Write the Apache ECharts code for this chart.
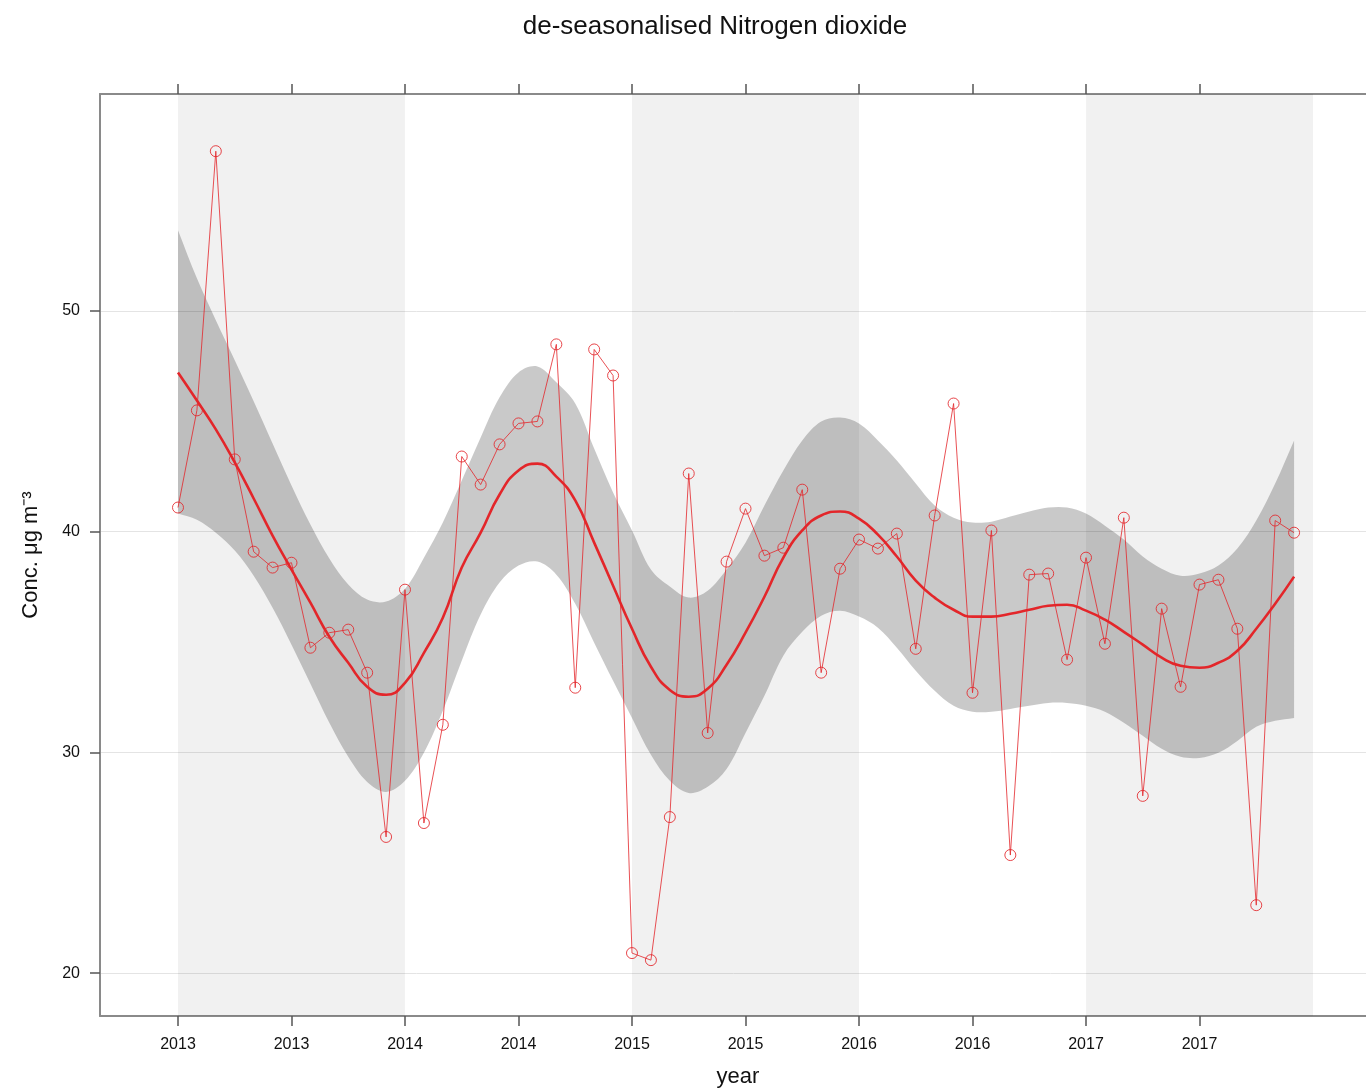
<!DOCTYPE html>
<html>
<head>
<meta charset="utf-8">
<title>de-seasonalised Nitrogen dioxide</title>
<script src="https://cdn.jsdelivr.net/npm/echarts@6/dist/echarts.min.js"></script>
<style>
  html, body { margin: 0; padding: 0; background: #fff; }
  #chart { width: 1366px; height: 1091px; }
</style>
</head>
<body>
<div id="chart"></div>
<script>
// months since Jan 2013 (one de-seasonalised value per month)
const monthIndex = [
  0, 1, 2, 3, 4, 5, 6, 7, 8, 9, 10, 11,
  12, 13, 14, 15, 16, 17, 18, 19, 20, 21, 22, 23,
  24, 25, 26, 27, 28, 29, 30, 31, 32, 33, 34, 35,
  36, 37, 38, 39, 40, 41, 42, 43, 44, 45, 46, 47,
  48, 49, 50, 51, 52, 53, 54, 55, 56, 57, 58, 59,
];

const no2 = [
  41.09, 45.49, 57.23, 43.27, 39.09, 38.37, 38.59, 34.74, 35.42, 35.56, 33.61, 26.17,
  37.37, 26.80, 31.25, 43.40, 42.13, 43.95, 44.90, 44.99, 48.48, 32.93, 48.25, 47.07,
  20.91, 20.59, 27.07, 42.63, 30.88, 38.64, 41.04, 38.91, 39.27, 41.90, 33.61, 38.32,
  39.64, 39.23, 39.91, 34.69, 40.73, 45.80, 32.70, 40.05, 25.35, 38.05, 38.10, 34.20,
  38.82, 34.92, 40.63, 28.03, 36.51, 32.97, 37.60, 37.82, 35.60, 23.08, 40.50, 39.95,
];

const trend = [
  47.21, 45.94, 44.63, 43.13, 41.50, 39.82, 38.28, 36.78, 35.24, 34.06, 32.97, 32.61,
  33.15, 34.51, 36.10, 38.37, 39.95, 41.68, 42.77, 43.08, 42.49, 41.41, 39.50, 37.55,
  35.60, 33.88, 32.83, 32.52, 32.88, 33.97, 35.42, 37.05, 38.82, 40.05, 40.73, 40.91,
  40.59, 39.86, 38.87, 37.78, 37.01, 36.46, 36.15, 36.15, 36.28, 36.46, 36.64, 36.69,
  36.42, 36.01, 35.46, 34.88, 34.29, 33.92, 33.83, 34.06, 34.60, 35.60, 36.73, 37.96,
];

const trendUpper = [
  53.65, 51.47, 49.57, 47.76, 45.90, 43.99, 42.09, 40.32, 38.78, 37.60, 36.92, 36.83,
  37.41, 38.82, 40.41, 42.31, 44.26, 46.08, 47.21, 47.48, 46.76, 45.80, 43.76, 41.77,
  40.05, 38.28, 37.51, 37.01, 37.32, 38.28, 39.50, 41.18, 42.77, 44.13, 44.99, 45.17,
  44.90, 44.13, 43.22, 42.18, 41.18, 40.63, 40.41, 40.45, 40.68, 40.91, 41.09, 41.09,
  40.82, 40.27, 39.64, 38.87, 38.32, 38.00, 38.10, 38.46, 39.23, 40.50, 42.18, 44.13,
];

const trendLower = [
  40.82, 40.54, 39.95, 39.14, 38.00, 36.55, 34.88, 33.11, 31.34, 29.80, 28.66, 28.21,
  28.71, 29.98, 31.88, 34.15, 36.24, 37.69, 38.46, 38.64, 38.05, 36.73, 34.97, 33.24,
  31.56, 29.89, 28.71, 28.16, 28.44, 29.25, 30.88, 32.56, 34.38, 35.46, 36.19, 36.42,
  36.15, 35.65, 34.74, 33.70, 32.79, 32.11, 31.84, 31.84, 31.97, 32.11, 32.24, 32.24,
  32.11, 31.84, 31.34, 30.75, 30.16, 29.80, 29.75, 29.98, 30.52, 31.16, 31.43, 31.56,
];

// x ticks every half year, labelled with the year
const xTickValues = [0, 6, 12, 18, 24, 30, 36, 42, 48, 54];
const xTickLabels = ["2013", "2013", "2014", "2014", "2015", "2015", "2016", "2016", "2017", "2017"];
const yTickValues = [20, 30, 40, 50];
// shaded years (2013, 2015, 2017), as month ranges
const shadedYears = [[0, 12], [24, 36], [48, 60]];

const RED = "#e3262a";
const AXIS_GREY = "#8a8a8a";
const FONT = "Liberation Sans, Arial, sans-serif";

const chart = echarts.init(document.getElementById("chart"), null, { renderer: "canvas" });

const pairs = (ys) => monthIndex.map((m, i) => [m, ys[i]]);

// confidence band of the trend as one smoothed polygon: upper edge, then lower edge back.
// end points are doubled so the smoothing keeps the two vertical ends straight
function renderBand(params, api) {
  if (params.dataIndex !== 0) return null;
  const upper = monthIndex.map((m, j) => api.coord([m, trendUpper[j]]));
  const lower = monthIndex.map((m, j) => api.coord([m, trendLower[j]])).reverse();
  const pts = [upper[0]].concat(upper, [upper[upper.length - 1]], [lower[0]], lower, [lower[lower.length - 1]]);
  return {
    type: "polygon",
    shape: { points: pts, smooth: 0.35 },
    style: { fill: "rgba(0,0,0,0.21)", stroke: null },
  };
}

const xAxisBase = {
  type: "value",
  min: -4.123,
  max: 63.33,
  axisLine: { show: true, onZero: false, lineStyle: { color: AXIS_GREY, width: 2 } },
  axisTick: {
    show: true,
    inside: false,
    length: 10,
    customValues: xTickValues,
    lineStyle: { color: "#555", width: 1.5 },
  },
  splitLine: { show: false },
};

chart.setOption({
  animation: false,
  backgroundColor: "#fff",
  title: {
    text: "de-seasonalised Nitrogen dioxide",
    left: 710,
    top: 9,
    textAlign: "center",
    textStyle: { fontFamily: FONT, fontSize: 26, fontWeight: "normal", color: "#111" },
  },
  grid: { left: 100, right: -10, top: 94, bottom: 75, outerBoundsMode: "none", containLabel: false },
  xAxis: [
    {
      ...xAxisBase,
      position: "bottom",
      name: "year",
      nameLocation: "middle",
      nameGap: 50,
      nameTextStyle: { fontFamily: FONT, fontSize: 22, color: "#111" },
      axisLabel: {
        show: true,
        margin: 21,
        customValues: xTickValues,
        fontFamily: FONT,
        fontSize: 16,
        color: "#111",
        formatter: (v) => xTickLabels[xTickValues.indexOf(v)] || "",
      },
    },
    {
      ...xAxisBase,
      position: "top",
      axisLabel: { show: false },
    },
  ],
  yAxis: {
    type: "value",
    min: 18.06,
    max: 59.82,
    name: "Conc. μg m⁻³",
    nameLocation: "middle",
    nameGap: 58,
    nameRotate: 90,
    nameTextStyle: { fontFamily: FONT, fontSize: 22, color: "#111" },
    axisLine: { show: true, onZero: false, lineStyle: { color: AXIS_GREY, width: 2 } },
    axisTick: {
      show: true,
      length: 10,
      customValues: yTickValues,
      lineStyle: { color: "#555", width: 1.5 },
    },
    axisLabel: {
      margin: 20,
      customValues: yTickValues,
      fontFamily: FONT,
      fontSize: 16,
      color: "#111",
    },
    splitLine: { show: true, lineStyle: { color: "#e4e4e4", width: 1 } },
  },
  series: [
    {
      name: "year shading",
      type: "line",
      data: [],
      z: 1,
      silent: true,
      markArea: {
        silent: true,
        itemStyle: { color: "rgba(0,0,0,0.055)" },
        data: shadedYears.map(([a, b]) => [{ xAxis: a }, { xAxis: b }]),
      },
    },
    {
      name: "band",
      type: "custom",
      renderItem: renderBand,
      data: monthIndex.map((m, i) => [m, trendLower[i], trendUpper[i]]),
      encode: { x: 0, y: [1, 2] },
      silent: true,
      z: 2,
    },
    {
      name: "NO2",
      type: "line",
      data: pairs(no2),
      symbol: "circle",
      symbolSize: 11,
      lineStyle: { color: "rgba(227,38,42,0.8)", width: 1 },
      itemStyle: { color: "rgba(0,0,0,0)", borderColor: "rgba(227,38,42,0.85)", borderWidth: 1 },
      z: 3,
    },
    {
      name: "trend",
      type: "line",
      data: pairs(trend),
      smooth: 0.5,
      symbol: "none",
      lineStyle: { color: RED, width: 2.6 },
      z: 4,
    },
  ],
});
</script>
</body>
</html>
